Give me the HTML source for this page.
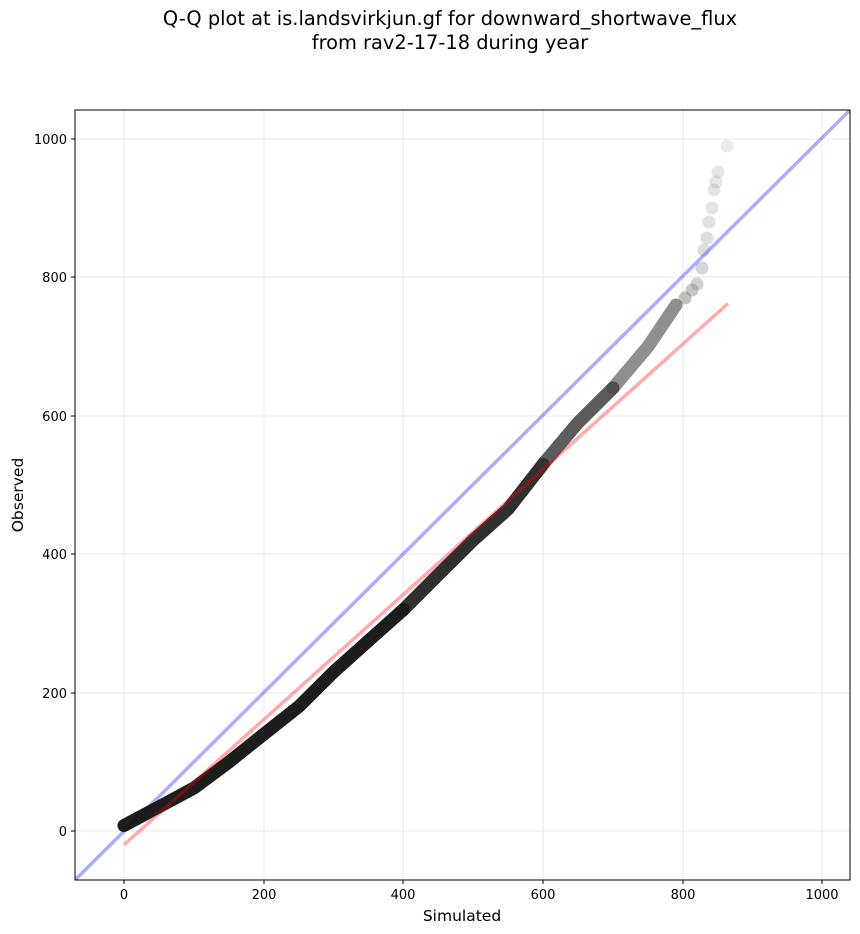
<!DOCTYPE html>
<html><head><meta charset="utf-8"><style>
body{margin:0;background:#fff;}
svg{display:block;font-family:"DejaVu Sans","Liberation Sans",sans-serif;}
</style></head><body>
<svg width="860" height="934" viewBox="0 0 860 934">
<rect width="860" height="934" fill="#fff"/>
<text x="450" y="25" font-size="19.4" text-anchor="middle">Q-Q plot at is.landsvirkjun.gf for downward_shortwave_flux</text>
<text x="450" y="49" font-size="19.4" text-anchor="middle">from rav2-17-18 during year</text>
<defs><clipPath id="c"><rect x="75" y="110" width="775" height="770"/></clipPath></defs>
<g stroke="#ddd" stroke-width="1" opacity="0.6">
<line x1="124" y1="110" x2="124" y2="880"/><line x1="264" y1="110" x2="264" y2="880"/><line x1="403" y1="110" x2="403" y2="880"/><line x1="543" y1="110" x2="543" y2="880"/><line x1="683" y1="110" x2="683" y2="880"/><line x1="822" y1="110" x2="822" y2="880"/>
<line x1="75" y1="831" x2="850" y2="831"/><line x1="75" y1="693" x2="850" y2="693"/><line x1="75" y1="554" x2="850" y2="554"/><line x1="75" y1="416" x2="850" y2="416"/><line x1="75" y1="277" x2="850" y2="277"/><line x1="75" y1="139" x2="850" y2="139"/>
</g>
<g clip-path="url(#c)">
<line x1="75" y1="880" x2="850" y2="110" stroke="#0000ee" stroke-opacity="0.32" stroke-width="3.5"/>
<g fill="none" stroke-linecap="round" stroke-linejoin="round" stroke-width="13">
<path d="M124,825.5 L159,806.8 L194,788 L229,762 L264,734 L299,706.4 L333.6,672 L368.5,640.7 L403.4,609.6" stroke="#111" stroke-opacity="0.95"/>
<path d="M403.4,609.6 L438,575 L473,540.4 L508,509.2 L543,464.2" stroke="#1a1a1a" stroke-opacity="0.9"/>
<path d="M543,464.2 L578,422.7 L613,388" stroke="#333" stroke-opacity="0.8"/>
<path d="M613,388 L648,346.6 L676,305" stroke="#444" stroke-opacity="0.6"/>
</g>
<g fill="#777">
<circle cx="685" cy="298" r="6.5" fill-opacity="0.45"/>
<circle cx="692" cy="290" r="6.5" fill-opacity="0.4"/>
<circle cx="697" cy="284" r="6.5" fill-opacity="0.35"/>
<circle cx="702" cy="268" r="6.5" fill-opacity="0.3"/>
<circle cx="704" cy="250" r="6.5" fill-opacity="0.25"/>
<circle cx="707" cy="238" r="6.5" fill-opacity="0.25"/>
<circle cx="709" cy="222" r="6.5" fill-opacity="0.22"/>
<circle cx="712" cy="208" r="6.5" fill-opacity="0.2"/>
<circle cx="714" cy="190" r="6.5" fill-opacity="0.2"/>
<circle cx="716" cy="182" r="6.5" fill-opacity="0.18"/>
<circle cx="718" cy="172" r="6.5" fill-opacity="0.18"/>
<circle cx="727" cy="146" r="6.5" fill-opacity="0.15"/>
</g>
<line x1="124" y1="844.8" x2="728" y2="303.5" stroke="#ff0000" stroke-opacity="0.33" stroke-width="3.5"/>
</g>
<rect x="75" y="110" width="775" height="770" fill="none" stroke="#000" stroke-width="1"/>
<g stroke="#000"><line x1="124" y1="880" x2="124" y2="884"/><line x1="264" y1="880" x2="264" y2="884"/><line x1="403" y1="880" x2="403" y2="884"/><line x1="543" y1="880" x2="543" y2="884"/><line x1="683" y1="880" x2="683" y2="884"/><line x1="822" y1="880" x2="822" y2="884"/>
<line x1="71" y1="831" x2="75" y2="831"/><line x1="71" y1="693" x2="75" y2="693"/><line x1="71" y1="554" x2="75" y2="554"/><line x1="71" y1="416" x2="75" y2="416"/><line x1="71" y1="277" x2="75" y2="277"/><line x1="71" y1="139" x2="75" y2="139"/></g>
<g font-size="13" text-anchor="middle"><text x="124" y="899">0</text><text x="264" y="899">200</text><text x="403" y="899">400</text><text x="543" y="899">600</text><text x="683" y="899">800</text><text x="822" y="899">1000</text></g>
<g font-size="13" text-anchor="end"><text x="67" y="836">0</text><text x="67" y="698">200</text><text x="67" y="559">400</text><text x="67" y="421">600</text><text x="67" y="282">800</text><text x="67" y="144">1000</text></g>
<text x="462" y="921" font-size="15.5" text-anchor="middle">Simulated</text>
<text x="23" y="495" font-size="15.5" text-anchor="middle" transform="rotate(-90 23 495)">Observed</text>
</svg>
</body></html>
